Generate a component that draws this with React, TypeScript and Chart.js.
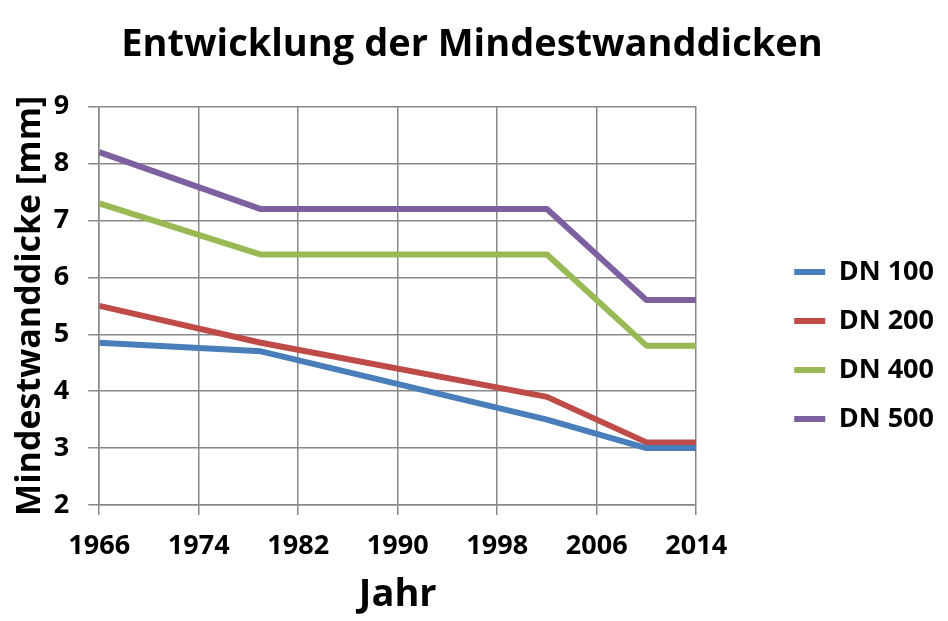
import React, { useEffect, useRef } from "react";
import { Chart, registerables } from "chart.js";

Chart.register(...registerables);

const years = [1966, 1979, 2002, 2010, 2014];
const dn100 = [4.85, 4.7, 3.5, 3.0, 3.0];
const dn200 = [5.5, 4.85, 3.9, 3.1, 3.1];
const dn400 = [7.3, 6.4, 6.4, 4.8, 4.8];
const dn500 = [8.2, 7.2, 7.2, 5.6, 5.6];
const seriesNames = ["DN 100", "DN 200", "DN 400", "DN 500"];
const seriesColors = ["#4A7EBB", "#BE4B48", "#98B954", "#7D60A0"];
const xTicks = [1966, 1974, 1982, 1990, 1998, 2006, 2014];

const FONT = "'Open Sans', Lato, sans-serif";

export default function App() {
  const ref = useRef<HTMLCanvasElement | null>(null);
  useEffect(() => {
    document.body.style.margin = "0";
    const series = [dn100, dn200, dn400, dn500];
    const chart = new Chart(ref.current as HTMLCanvasElement, {
      type: "line",
      data: {
        datasets: series.map((vals, i) => ({
          label: seriesNames[i],
          data: vals.map((v, j) => ({ x: years[j], y: v })),
          borderColor: seriesColors[i],
          backgroundColor: seriesColors[i],
          borderWidth: 6,
          pointRadius: 0,
          tension: 0,
          borderJoinStyle: "round" as const,
          xAxisID: "x",
          yAxisID: "y",
        })),
      },
      options: {
        animation: false,
        responsive: true,
        maintainAspectRatio: false,
        layout: { padding: { left: 0, right: 4, top: 0, bottom: 0 } },
        plugins: {
          tooltip: { enabled: false },
          title: {
            display: true,
            text: "Entwicklung der Mindestwanddicken",
            color: "#000",
            font: { family: FONT, size: 38, weight: "bold", lineHeight: 1.2 },
            padding: { top: 22, bottom: 39 },
          },
          legend: {
            display: true,
            position: "right",
            fullSize: true,
            title: {
              display: true,
              text: " ",
              font: { size: 10, lineHeight: 1.2 },
              padding: { top: 58, bottom: 0 },
            },
            labels: {
              color: "#000",
              boxWidth: 31,
              boxHeight: 6,
              padding: 22,
              font: { family: FONT, size: 27, weight: "bold" },
              generateLabels: (c: any) =>
                c.data.datasets.map((d: any, i: number) => ({
                  text: d.label,
                  fillStyle: d.borderColor,
                  strokeStyle: d.borderColor,
                  lineWidth: 0,
                  hidden: false,
                  datasetIndex: i,
                  fontColor: "#000",
                })),
            },
          },
        },
        scales: {
          x: {
            type: "linear",
            position: "bottom",
            min: 1966,
            max: 2014,
            afterBuildTicks: (s: any) => {
              s.ticks = xTicks.map((v) => ({ value: v }));
            },
            ticks: {
              color: "#000",
              padding: 15,
              maxRotation: 0,
              autoSkip: false,
              font: { family: FONT, size: 27, weight: "bold" },
              callback: (v: any) => String(v),
            },
            grid: { color: "#888888", lineWidth: 1.5, tickLength: 10 },
            border: { color: "#888888", width: 1.5 },
            title: {
              display: true,
              text: "Jahr",
              color: "#000",
              font: { family: FONT, size: 38, weight: "bold", lineHeight: 1.2 },
              padding: { top: -5, bottom: 3 },
            },
          },
          y: {
            type: "linear",
            position: "left",
            min: 2,
            max: 9,
            ticks: {
              stepSize: 1,
              color: "#000",
              padding: 19,
              font: { family: FONT, size: 27, weight: "bold" },
            },
            grid: { color: "#888888", lineWidth: 1.5, tickLength: 11 },
            border: { color: "#888888", width: 1.5 },
            title: {
              display: true,
              text: "Mindestwanddicke [mm]",
              color: "#000",
              font: { family: FONT, size: 34, weight: "bold", lineHeight: 1.2 },
              padding: { top: 10, bottom: -16 },
            },
          },
          gap: {
            type: "linear",
            position: "right",
            display: false,
            afterFit: (s: any) => {
              s.width = 76;
            },
          },
        },
      },
    } as any);
    return () => chart.destroy();
  }, []);
  return (
    <div style={{ position: "fixed", left: 0, top: 0, width: 948, height: 621, background: "#fff" }}>
      <canvas ref={ref} />
    </div>
  );
}
